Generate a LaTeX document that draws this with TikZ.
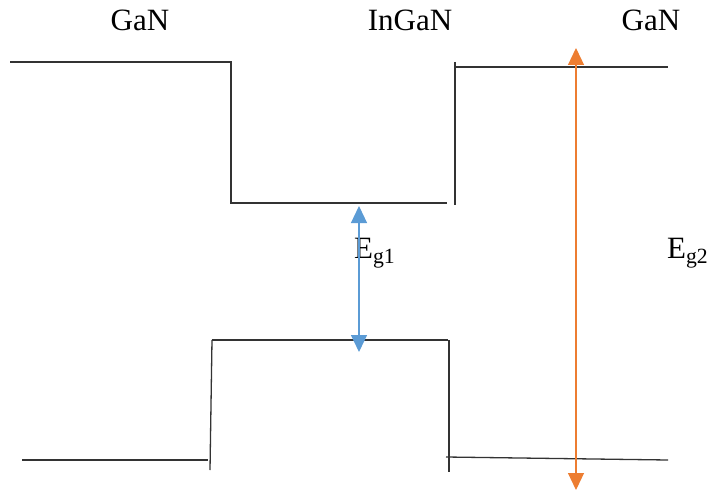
\documentclass[tikz,border=0pt]{standalone}
\usepackage{fontspec}
\setmainfont{Liberation Serif}
\usetikzlibrary{arrows.meta}
\definecolor{bandblue}{HTML}{5B9BD5}
\definecolor{bandorange}{HTML}{ED7D31}
\begin{document}
\begin{tikzpicture}[x=1pt,y=-1pt,
  band/.style={draw=black!80,line width=1.3pt},
  lbl/.style={font=\fontsize{31}{34}\selectfont,inner sep=0pt,anchor=base},
  gaparrow/.style={line width=1.2pt,{Triangle[length=17pt,width=16pt]}-{Triangle[length=17pt,width=16pt]}}]
\useasboundingbox (0,0) rectangle (709,495);
% conduction band
\draw[band] (10,62) -- (231,62) -- (231,203) -- (447,203);
\draw[band] (455,62) -- (455,205);
\draw[band] (456,67) -- (668,67);
% valence band
\draw[band] (22,460) -- (208,460);
\draw[band] (210,470) -- (212,340);
\draw[band] (212,340) -- (448,340);
\draw[band] (449,340) -- (449,472);
\draw[band] (446,457) -- (668,460);
% labels
\node[lbl] (gan1) at (140,31) {GaN};
\node[lbl] (ingan) at (410,31) {InGaN};
\node[lbl] (gan2) at (651,31) {GaN};
\node[lbl,anchor=base west] (eg1) at (354,258) {E\textsubscript{g1}};
\node[lbl,anchor=base west] (eg2) at (667,258) {E\textsubscript{g2}};
% arrows
\coordinate (b1) at (359,206);
\coordinate (b2) at (359,352);
\coordinate (o1) at (576,48);
\coordinate (o2) at (576,490);
\draw[gaparrow,draw=bandblue,fill=bandblue] (b1) -- (b2);
\draw[gaparrow,draw=bandorange,fill=bandorange] (o1) -- (o2);
\end{tikzpicture}
\end{document}
